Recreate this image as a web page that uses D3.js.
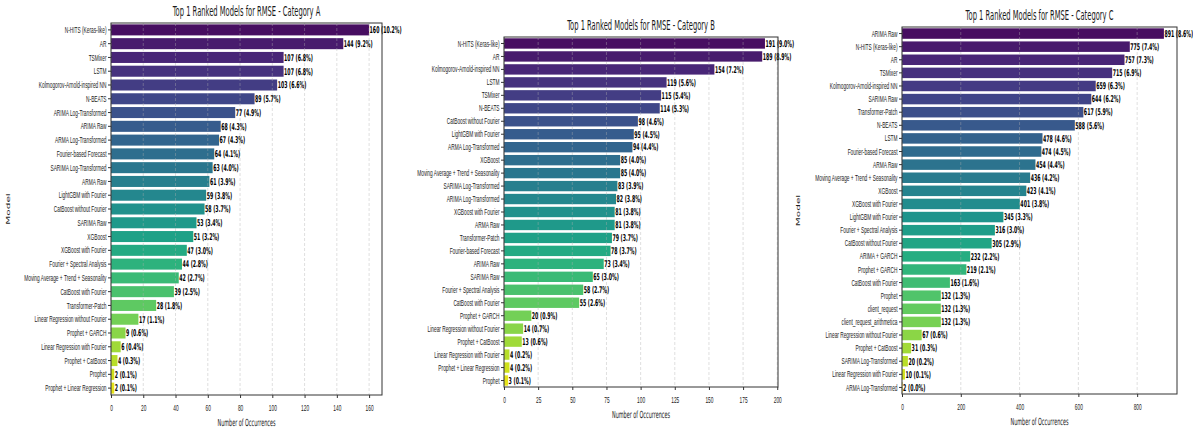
<!DOCTYPE html>
<html>
<head>
<meta charset="utf-8">
<script src="https://cdn.jsdelivr.net/npm/d3@7"></script>
<style>
  body { margin: 0; background: #fff; }
  svg { display: block; font-family: "DejaVu Sans", sans-serif; }
</style>
</head>
<body>
<svg id="chart" width="1193" height="432"></svg>
<script>
// ---- data ----
var modelsA = ["N-HITS (Keras-like)", "AR", "TSMixer", "LSTM", "Kolmogorov-Arnold-inspired NN", "N-BEATS",
  "ARIMA Log-Transformed", "ARIMA Raw", "ARMA Log-Transformed", "Fourier-based Forecast", "SARIMA Log-Transformed",
  "ARMA Raw", "LightGBM with Fourier", "CatBoost without Fourier", "SARIMA Raw", "XGBoost", "XGBoost with Fourier",
  "Fourier + Spectral Analysis", "Moving Average + Trend + Seasonality", "CatBoost with Fourier", "Transformer-Patch",
  "Linear Regression without Fourier", "Prophet + GARCH", "Linear Regression with Fourier", "Prophet + CatBoost",
  "Prophet", "Prophet + Linear Regression"];
var countsA = [160, 144, 107, 107, 103, 89, 77, 68, 67, 64, 63, 61, 59, 58, 53, 51, 47, 44, 42, 39, 28, 17, 9, 6, 4, 2, 2];
var ticksA = [0, 20, 40, 60, 80, 100, 120, 140, 160];

var modelsB = ["N-HITS (Keras-like)", "AR", "Kolmogorov-Arnold-inspired NN", "LSTM", "TSMixer", "N-BEATS",
  "CatBoost without Fourier", "LightGBM with Fourier", "ARMA Log-Transformed", "XGBoost",
  "Moving Average + Trend + Seasonality", "SARIMA Log-Transformed", "ARIMA Log-Transformed", "XGBoost with Fourier",
  "ARMA Raw", "Transformer-Patch", "Fourier-based Forecast", "ARIMA Raw", "SARIMA Raw", "Fourier + Spectral Analysis",
  "CatBoost with Fourier", "Prophet + GARCH", "Linear Regression without Fourier", "Prophet + CatBoost",
  "Linear Regression with Fourier", "Prophet + Linear Regression", "Prophet"];
var countsB = [191, 189, 154, 119, 115, 114, 98, 95, 94, 85, 85, 83, 82, 81, 81, 79, 78, 73, 65, 58, 55, 20, 14, 13, 4, 4, 3];
var ticksB = [0, 25, 50, 75, 100, 125, 150, 175, 200];

var modelsC = ["ARIMA Raw", "N-HITS (Keras-like)", "AR", "TSMixer", "Kolmogorov-Arnold-inspired NN", "SARIMA Raw",
  "Transformer-Patch", "N-BEATS", "LSTM", "Fourier-based Forecast", "ARMA Raw", "Moving Average + Trend + Seasonality",
  "XGBoost", "XGBoost with Fourier", "LightGBM with Fourier", "Fourier + Spectral Analysis", "CatBoost without Fourier",
  "ARIMA + GARCH", "Prophet + GARCH", "CatBoost with Fourier", "Prophet", "client_request", "client_request_arithmetica",
  "Linear Regression without Fourier", "Prophet + CatBoost", "SARIMA Log-Transformed", "Linear Regression with Fourier",
  "ARMA Log-Transformed"];
var countsC = [891, 775, 757, 715, 659, 644, 617, 588, 478, 474, 454, 436, 423, 401, 345, 316, 305, 232, 219, 163,
  132, 132, 132, 67, 31, 20, 10, 2];
var ticksC = [0, 200, 400, 600, 800];

// ---- layout (the picture is three plots squeezed side by side) ----
var K = 0.5; // horizontal squeeze of all text
var panels = [
  { title: "Top 1 Ranked Models for RMSE - Category A", models: modelsA, counts: countsA, ticks: ticksA,
    left: 111, right: 382, top: 23, bottom: 395, ylab: 8, clip: null },
  { title: "Top 1 Ranked Models for RMSE - Category B", models: modelsB, counts: countsB, ticks: ticksB,
    left: 504, right: 778, top: 37, bottom: 387, ylab: null, clip: 395 },
  { title: "Top 1 Ranked Models for RMSE - Category C", models: modelsC, counts: countsC, ticks: ticksC,
    left: 902, right: 1177, top: 27, bottom: 394, ylab: 798, clip: null }
];

var svg = d3.select("#chart");

function sq(x, y) { return "translate(" + x + "," + y + ") scale(" + K + ",1)"; }

panels.forEach(function(p, pi) {
  var g = svg.append("g");
  if (p.clip != null) {
    svg.append("clipPath").attr("id", "clip" + pi)
      .append("rect").attr("x", p.clip).attr("y", 0).attr("width", 1193 - p.clip).attr("height", 432);
    g.attr("clip-path", "url(#clip" + pi + ")");
  }

  var n = p.models.length;
  var total = d3.sum(p.counts);
  var x = d3.scaleLinear().domain([0, d3.max(p.counts) * 1.05]).range([p.left, p.right]);
  var y = d3.scaleBand().domain(d3.range(n)).range([p.top, p.bottom]).paddingInner(0.2).paddingOuter(0.1);

  // bars
  g.selectAll("rect.bar")
    .data(p.counts)
    .enter().append("rect")
    .attr("class", "bar")
    .attr("x", x(0))
    .attr("y", function(d, i) { return y(i); })
    .attr("width", function(d) { return x(d) - x(0); })
    .attr("height", y.bandwidth())
    .attr("fill", function(d, i) { return d3.interpolateViridis((i + 1) / (n + 1)); });

  // dashed grid on top of bars
  g.selectAll("line.grid")
    .data(p.ticks)
    .enter().append("line")
    .attr("class", "grid")
    .attr("x1", function(d) { return x(d); })
    .attr("x2", function(d) { return x(d); })
    .attr("y1", p.top).attr("y2", p.bottom)
    .attr("stroke", "#b0b0b0")
    .attr("stroke-opacity", 0.5)
    .attr("stroke-width", 0.8)
    .attr("stroke-dasharray", "3,2");

  // value labels
  g.selectAll("text.val")
    .data(p.counts)
    .enter().append("text")
    .attr("class", "val")
    .attr("transform", function(d, i) { return sq(x(d) + 0.5, y(i) + y.bandwidth() / 2); })
    .attr("dy", "0.35em")
    .attr("font-size", 9.4)
    .attr("font-weight", "bold")
    .attr("fill", "#000")
    .text(function(d) { return d + " (" + (d / total * 100).toFixed(1) + "%)"; });

  // y axis
  var ya = g.append("g")
    .attr("transform", "translate(" + p.left + ",0)")
    .call(d3.axisLeft(y).tickSize(3).tickFormat(function(i) { return p.models[i]; }));
  ya.select(".domain").remove();
  ya.selectAll("line").attr("stroke", "#333");
  ya.selectAll("text")
    .attr("x", null)
    .attr("transform", sq(-4.5, 0))
    .attr("font-size", 9.6)
    .attr("fill", "#1a1a1a");

  // x axis
  var xa = g.append("g")
    .attr("transform", "translate(0," + p.bottom + ")")
    .call(d3.axisBottom(x).tickValues(p.ticks).tickSize(3).tickFormat(d3.format("d")));
  xa.select(".domain").remove();
  xa.selectAll("line").attr("stroke", "#333");
  xa.selectAll("text")
    .attr("y", null)
    .attr("dy", null)
    .attr("transform", sq(0, 15.5))
    .attr("font-size", 9.6)
    .attr("fill", "#1a1a1a");

  // frame
  g.append("rect")
    .attr("x", p.left).attr("y", p.top)
    .attr("width", p.right - p.left).attr("height", p.bottom - p.top)
    .attr("fill", "none").attr("stroke", "#333").attr("stroke-width", 1);

  // titles
  g.append("text")
    .attr("transform", sq((p.left + p.right) / 2, p.top - 7))
    .attr("text-anchor", "middle")
    .attr("font-size", 13.5)
    .attr("fill", "#1a1a1a")
    .text(p.title);

  g.append("text")
    .attr("transform", sq((p.left + p.right) / 2, p.bottom + 31))
    .attr("text-anchor", "middle")
    .attr("font-size", 9.8)
    .attr("fill", "#1a1a1a")
    .text("Number of Occurrences");

  if (p.ylab != null) {
    g.append("text")
      .attr("transform", "translate(" + p.ylab + "," + (p.top + p.bottom) / 2 + ") scale(" + K + ",1) rotate(-90)")
      .attr("text-anchor", "middle")
      .attr("dy", "0.35em")
      .attr("font-size", 10.5)
      .attr("fill", "#1a1a1a")
      .text("Model");
  }
});
</script>
</body>
</html>
